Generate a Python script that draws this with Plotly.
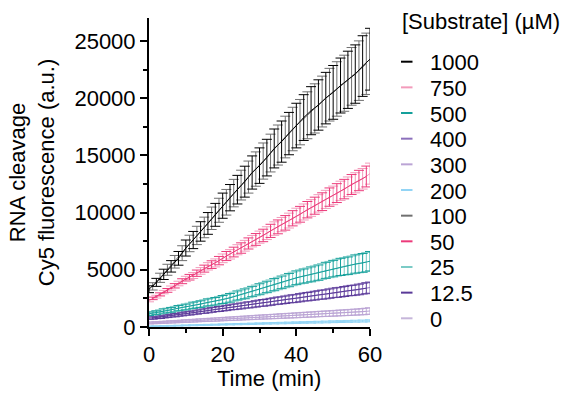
import plotly.graph_objects as go

# ---------------- data ----------------
time_even = [0, 2, 4, 6, 8, 10, 12, 14, 16, 18, 20, 22, 24, 26, 28, 30, 32, 34, 36, 38, 40,
             42, 44, 46, 48, 50, 52, 54, 56, 58, 60]
time_odd = [1, 3, 5, 7, 9, 11, 13, 15, 17, 19, 21, 23, 25, 27, 29, 31, 33, 35, 37, 39,
            41, 43, 45, 47, 49, 51, 53, 55, 57, 59]

legend_labels = ["1000", "750", "500", "400", "300", "200", "100", "50", "25", "12.5", "0"]
legend_title = "[Substrate] (µM)"

s1000_y = [3300, 3900, 4600, 5300, 6000, 6900, 7600, 8350, 9050, 9800, 10600, 11300, 12000, 12700,
           13500, 14100, 14800, 15600, 16200, 16900, 17600, 18300, 18900, 19400, 20000, 20500,
           21100, 21600, 22100, 22800, 23400]
s1000_err = [300, 350, 450, 500, 600, 700, 750, 850, 950, 1000, 1100, 1150, 1250, 1350, 1450, 1550,
             1600, 1700, 1800, 1850, 1950, 2000, 2100, 2200, 2250, 2350, 2400, 2500, 2550, 2650, 2700]
s100_y = [3550, 4300, 5000, 5700, 6450, 7300, 8000, 8700, 9500, 10200, 10900, 11700, 12400, 13100,
          13800, 14500, 15200, 15900, 16600, 17300, 17900, 18500, 19100, 19700, 20300, 20800,
          21300, 21900, 22400, 23000]
s100_err = [320, 400, 480, 550, 650, 720, 800, 900, 980, 1050, 1120, 1200, 1300, 1400, 1500, 1580,
            1650, 1750, 1820, 1900, 1980, 2050, 2150, 2220, 2300, 2380, 2450, 2520, 2600, 2680]

s750_y = [2300, 2650, 3050, 3400, 3800, 4200, 4500, 4900, 5300, 5600, 6000, 6350, 6750, 7100, 7500,
          7850, 8200, 8600, 8950, 9300, 9700, 10050, 10400, 10800, 11150, 11500, 11900, 12250,
          12600, 12950, 13400]
s750_err = [100, 120, 150, 180, 200, 230, 260, 290, 320, 350, 380, 410, 440, 470, 500, 530, 560, 590,
            620, 650, 680, 700, 730, 760, 790, 810, 840, 860, 880, 900, 920]
s50_y = [2500, 2850, 3200, 3600, 4000, 4350, 4700, 5100, 5450, 5800, 6200, 6550, 6900, 7300, 7650,
         8000, 8400, 8750, 9100, 9500, 9850, 10250, 10600, 10950, 11350, 11700, 12050, 12450,
         12800, 13150]
s50_err = [110, 135, 165, 190, 215, 245, 275, 305, 335, 365, 395, 425, 455, 485, 515, 545, 575, 605,
           635, 665, 690, 715, 745, 775, 800, 825, 850, 870, 890, 910]

s500_y = [1150, 1250, 1400, 1500, 1650, 1750, 1900, 2000, 2150, 2250, 2400, 2550, 2750, 2900, 3100,
          3300, 3500, 3700, 3900, 4100, 4300, 4450, 4600, 4750, 4950, 5100, 5250, 5350, 5500,
          5600, 5750]
s500_err = [150, 170, 190, 210, 230, 250, 270, 290, 310, 330, 350, 380, 400, 430, 450, 480, 500, 530,
            550, 580, 600, 620, 650, 670, 700, 720, 750, 770, 800, 820, 850]
s25_y = [1200, 1320, 1450, 1580, 1700, 1820, 1950, 2080, 2200, 2330, 2480, 2650, 2820, 3000, 3200,
         3400, 3600, 3800, 4000, 4200, 4380, 4520, 4680, 4850, 5020, 5180, 5300, 5420, 5550, 5680]
s25_err = [160, 180, 200, 220, 240, 260, 280, 300, 320, 340, 365, 390, 415, 440, 465, 490, 515, 540,
           565, 590, 610, 635, 660, 685, 710, 735, 760, 785, 810, 835]

s400_y = [750, 830, 900, 1000, 1070, 1180, 1250, 1360, 1430, 1540, 1610, 1720, 1790, 1900, 1960,
          2080, 2150, 2260, 2330, 2440, 2500, 2620, 2690, 2800, 2860, 2980, 3040, 3160, 3220,
          3340, 3450]
s400_err = [100, 110, 120, 135, 150, 160, 170, 185, 200, 210, 220, 235, 250, 260, 270, 285, 300, 310,
            320, 335, 350, 360, 375, 390, 400, 415, 430, 440, 455, 470, 490]
s12_5_y = [790, 860, 950, 1030, 1130, 1210, 1300, 1390, 1490, 1570, 1660, 1760, 1840, 1930, 2020,
           2110, 2200, 2300, 2380, 2470, 2560, 2650, 2740, 2830, 2920, 3010, 3100, 3190, 3280, 3390]
s12_5_err = [105, 115, 128, 142, 155, 165, 178, 192, 205, 215, 228, 242, 255, 265, 278, 292, 305, 315,
             328, 342, 355, 368, 382, 395, 408, 422, 435, 448, 462, 480]

s300_y = [350, 380, 410, 450, 480, 520, 550, 590, 620, 650, 690, 720, 750, 790, 820, 860, 890, 920,
          960, 990, 1020, 1060, 1090, 1130, 1160, 1190, 1230, 1260, 1300, 1340, 1400]
s300_err = [80, 85, 90, 95, 100, 110, 115, 120, 130, 135, 140, 150, 155, 160, 170, 175, 180, 190, 195,
            200, 210, 215, 220, 230, 235, 240, 250, 255, 260, 270, 280]
s0_y = [365, 395, 430, 465, 500, 535, 570, 605, 635, 670, 705, 735, 770, 805, 840, 875, 905, 940,
        975, 1005, 1040, 1075, 1110, 1145, 1175, 1210, 1245, 1280, 1320, 1370]
s0_err = [82, 88, 92, 98, 105, 112, 118, 125, 132, 138, 145, 152, 158, 165, 172, 178, 185, 192, 198,
          205, 212, 218, 225, 232, 238, 245, 252, 258, 265, 275]

s200_y = [60, 75, 90, 105, 120, 140, 155, 170, 185, 200, 220, 235, 250, 265, 280, 300, 315, 330, 345,
          360, 380, 395, 410, 425, 440, 460, 475, 490, 505, 520, 540]
s200_err = [30, 32, 34, 36, 38, 40, 42, 44, 46, 48, 50, 52, 54, 56, 58, 60, 62, 64, 66, 68, 70, 72,
            74, 76, 78, 80, 82, 84, 86, 88, 90]

# ---------------- styles ----------------
colors = {
    "1000": "#000000", "750": "#F39BBB", "500": "#14A09B", "400": "#8C70BC",
    "300": "#BBA4D5", "200": "#92D4F5", "100": "#707070", "50": "#EC3A7A",
    "25": "#7BCBC6", "12.5": "#5A3A98", "0": "#C6B6DA",
}

FONT = "Liberation Sans, Arial, sans-serif"

fig = go.Figure()

draw_order = [
    ("0", time_odd, s0_y, s0_err), ("300", time_even, s300_y, s300_err),
    ("200", time_even, s200_y, s200_err),
    ("400", time_even, s400_y, s400_err), ("12.5", time_odd, s12_5_y, s12_5_err),
    ("25", time_odd, s25_y, s25_err), ("500", time_even, s500_y, s500_err),
    ("750", time_even, s750_y, s750_err), ("50", time_odd, s50_y, s50_err),
    ("100", time_odd, s100_y, s100_err), ("1000", time_even, s1000_y, s1000_err),
]

for lab, xs, ys, es in draw_order:
    c = colors[lab]
    fig.add_trace(go.Scatter(
        x=xs, y=ys, mode="lines", name=lab, showlegend=False,
        line=dict(color=c, width=1),
        error_y=dict(type="data", array=es, color=c, thickness=1, width=5),
        cliponaxis=False,
    ))

# ---------------- legend (text + short line keys) ----------------
L, R, T, B = 149, 198, 18, 73
W = 568 - L - R
H = 400 - T - B

def px_to_paper_x(px):
    return (px - L) / W

def px_to_paper_y(py):
    return (400 - B - py) / H

shapes = []
annotations = []
annotations.append(dict(
    x=px_to_paper_x(400), y=px_to_paper_y(22), xref="paper", yref="paper",
    text=legend_title, showarrow=False, xanchor="left", yanchor="middle",
    font=dict(family=FONT, size=22, color="black")))
for i, lab in enumerate(legend_labels):
    yc = 61.7 + i * 25.66
    shapes.append(dict(type="line", xref="paper", yref="paper",
                       x0=px_to_paper_x(401), x1=px_to_paper_x(412.5),
                       y0=px_to_paper_y(yc), y1=px_to_paper_y(yc),
                       line=dict(color=colors[lab], width=2)))
    annotations.append(dict(
        x=px_to_paper_x(428), y=px_to_paper_y(yc + 1), xref="paper", yref="paper",
        text=lab, showarrow=False, xanchor="left", yanchor="middle",
        font=dict(family=FONT, size=22, color="black")))

annotations.append(dict(
    x=px_to_paper_x(269), y=px_to_paper_y(378), xref="paper", yref="paper",
    text="Time (min)", showarrow=False, xanchor="center", yanchor="middle",
    font=dict(family=FONT, size=22, color="black")))

fig.update_layout(
    width=568, height=400,
    margin=dict(l=L, r=R, t=T, b=B, pad=0, autoexpand=False),
    paper_bgcolor="white", plot_bgcolor="white",
    showlegend=False,
    font=dict(family=FONT, size=22, color="black"),
    shapes=shapes, annotations=annotations,
    xaxis=dict(
        range=[0, 60], tickvals=[0, 20, 40, 60], ticktext=["0", "20", "40", "60"],
        showgrid=False, zeroline=False, showline=True, linecolor="black", linewidth=2,
        ticks="outside", ticklen=7, tickwidth=2, tickcolor="black",
        tickfont=dict(family=FONT, size=22, color="black"),
        minor=dict(tickvals=[10, 30, 50], ticks="outside", ticklen=4, tickwidth=2,
                   tickcolor="black", showgrid=False),
    ),
    yaxis=dict(
        range=[0, 27000], tickvals=[0, 5000, 10000, 15000, 20000, 25000],
        ticktext=["0", "5000", "10000", "15000", "20000", "25000"],
        showgrid=False, zeroline=False, showline=True, linecolor="black", linewidth=2,
        ticks="outside", ticklen=7, tickwidth=2, tickcolor="black",
        tickfont=dict(family=FONT, size=22, color="black"),
        minor=dict(tickvals=[2500, 7500, 12500, 17500, 22500], ticks="outside", ticklen=4,
                   tickwidth=2, tickcolor="black", showgrid=False),
        title=dict(text="RNA cleavage<br>Cy5 fluorescence (a.u.)",
                   font=dict(family=FONT, size=22, color="black"), standoff=14),
    ),
)

fig.write_html(
    "out.html",
    config={"displayModeBar": False},
    post_script="document.body.style.margin='0';document.body.style.padding='0';",
)
